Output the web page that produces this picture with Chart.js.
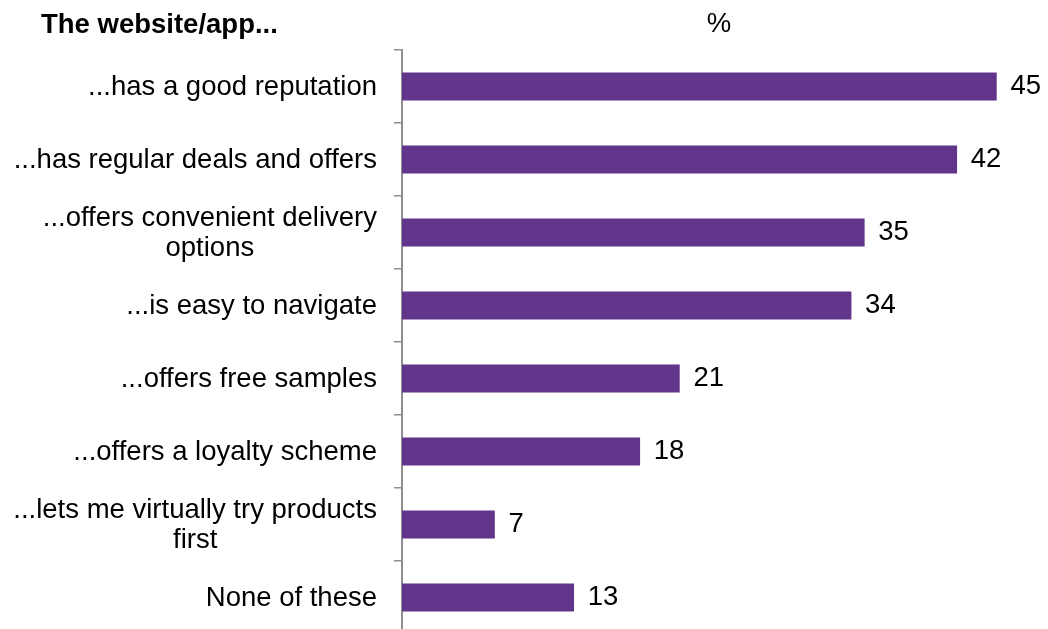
<!DOCTYPE html>
<html>

<head>
    <title>Website/app features</title>
    <meta charset="utf-8">
    <script src="https://cdn.jsdelivr.net/npm/chart.js"></script>
    <style>
        html, body {
            margin: 0;
            padding: 0;
            background: #ffffff;
            overflow: hidden;
        }

        #wrap {
            position: relative;
            width: 1048px;
            height: 636px;
        }
    </style>
</head>

<body>
    <div id="wrap">
        <canvas id="barChart"></canvas>
    </div>

    <script>
        var categories = [
            '...has a good reputation',
            '...has regular deals and offers',
            ['...offers convenient delivery', 'options'],
            '...is easy to navigate',
            '...offers free samples',
            '...offers a loyalty scheme',
            ['...lets me virtually try products', 'first'],
            'None of these'
        ];
        var values = [45, 42, 35, 34, 21, 18, 7, 13];

        var headerText = 'The website/app...';
        var unitText = '%';

        var FONT = '"Liberation Sans", Arial, sans-serif';
        var FONT_SIZE = 27.5;
        var BAR_COLOR = '#60358a';
        var AXIS_COLOR = '#8f8f8f';

        // category labels: lines centred on each other, block right-aligned to the axis
        var categoryLabels = {
            id: 'categoryLabels',
            afterDraw: function (chart) {
                var ctx = chart.ctx;
                var yScale = chart.scales.y;
                var rightEdge = yScale.right - 25;
                var lineHeight = 30;
                ctx.save();
                ctx.font = FONT_SIZE + 'px ' + FONT;
                ctx.fillStyle = '#000000';
                ctx.textAlign = 'center';
                ctx.textBaseline = 'middle';
                categories.forEach(function (label, i) {
                    var lines = Array.isArray(label) ? label : [label];
                    var widest = Math.max.apply(null, lines.map(function (l) { return ctx.measureText(l).width; }));
                    var cx = rightEdge - widest / 2;
                    var cy = yScale.getPixelForTick(i) + 1;
                    var startY = cy - (lines.length - 1) * lineHeight / 2;
                    lines.forEach(function (line, j) {
                        ctx.fillText(line, cx, startY + j * lineHeight);
                    });
                });
                ctx.restore();
            }
        };

        // value labels to the right of each bar, plus header and unit text
        var valueLabels = {
            id: 'valueLabels',
            afterDatasetsDraw: function (chart) {
                var ctx = chart.ctx;
                var area = chart.chartArea;
                var meta = chart.getDatasetMeta(0);
                ctx.save();
                ctx.font = FONT_SIZE + 'px ' + FONT;
                ctx.fillStyle = '#000000';
                ctx.textBaseline = 'middle';
                ctx.textAlign = 'left';
                meta.data.forEach(function (bar, i) {
                    ctx.fillText(String(values[i]), bar.x + 14, bar.y);
                });

                ctx.textAlign = 'center';
                ctx.fillText(unitText, (area.left + area.right) / 2, 24);

                ctx.font = 'bold ' + FONT_SIZE + 'px ' + FONT;
                ctx.textAlign = 'left';
                ctx.fillText(headerText, 41, 25);
                ctx.restore();
            }
        };

        var ctx = document.getElementById('barChart').getContext('2d');
        var barChart = new Chart(ctx, {
            type: 'bar',
            data: {
                labels: categories,
                datasets: [{
                    data: values,
                    backgroundColor: BAR_COLOR,
                    borderWidth: 0,
                    barThickness: 27.5
                }]
            },
            options: {
                indexAxis: 'y',
                responsive: true,
                maintainAspectRatio: false,
                animation: false,
                layout: {
                    padding: { top: 50, right: 12, bottom: 2, left: 0 }
                },
                plugins: {
                    legend: { display: false },
                    tooltip: { enabled: false }
                },
                scales: {
                    x: {
                        display: false,
                        min: 0,
                        max: 48
                    },
                    y: {
                        offset: true,
                        afterFit: function (scale) {
                            scale.width = 402;
                        },
                        ticks: { display: false },
                        grid: {
                            offset: true,
                            drawOnChartArea: false,
                            drawTicks: true,
                            tickLength: 8,
                            color: AXIS_COLOR,
                            lineWidth: 1.5
                        },
                        border: {
                            display: true,
                            color: AXIS_COLOR,
                            width: 2
                        }
                    }
                }
            },
            plugins: [categoryLabels, valueLabels]
        });
    </script>
</body>

</html>
